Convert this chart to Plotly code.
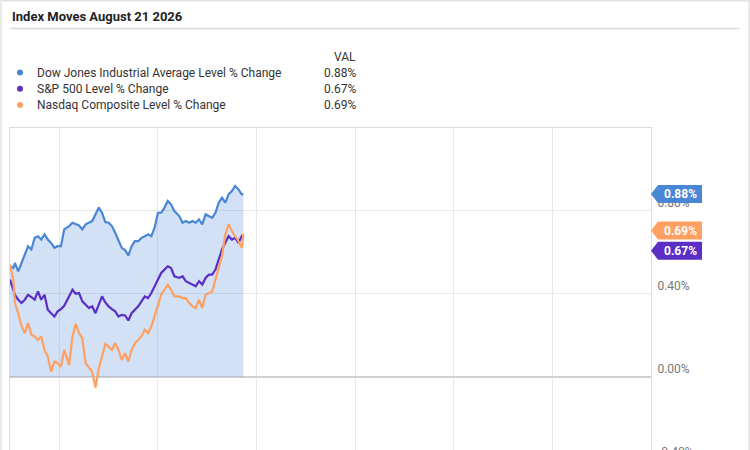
import pandas as pd
import plotly.graph_objects as go

# minutes after the 9:30 open
minutes = [0, 2, 3, 5, 7, 9, 11, 13, 15, 17, 19, 21, 23, 25, 27, 29, 31, 33, 36, 38,
           40, 42, 44, 46, 48, 50, 52, 54, 56, 58, 60, 62, 64, 66, 68, 70, 72, 74, 76, 78,
           80, 82, 84, 86, 88, 90, 92, 94, 96, 98, 100, 103, 105, 107, 109, 111, 113, 115, 117, 119,
           121, 123, 125, 127, 129, 131, 133, 135, 137, 139, 141, 142]

dow = [0.532, 0.524, 0.548, 0.508, 0.548, 0.589, 0.629, 0.613, 0.669, 0.677, 0.661, 0.686, 0.661, 0.645, 0.621, 0.629, 0.629, 0.710, 0.726, 0.742,
       0.734, 0.729, 0.710, 0.734, 0.742, 0.750, 0.782, 0.815, 0.790, 0.745, 0.742, 0.726, 0.694, 0.661, 0.621, 0.610, 0.584, 0.629, 0.653, 0.653,
       0.669, 0.677, 0.686, 0.677, 0.718, 0.790, 0.790, 0.815, 0.847, 0.831, 0.798, 0.774, 0.742, 0.750, 0.742, 0.750, 0.742, 0.758, 0.734, 0.782,
       0.774, 0.766, 0.790, 0.839, 0.863, 0.839, 0.879, 0.895, 0.919, 0.903, 0.879, 0.880]

spx = [0.468, 0.419, 0.395, 0.371, 0.355, 0.371, 0.395, 0.384, 0.371, 0.411, 0.371, 0.395, 0.323, 0.306, 0.290, 0.315, 0.326, 0.342, 0.387, 0.419,
       0.400, 0.403, 0.363, 0.347, 0.331, 0.339, 0.306, 0.347, 0.387, 0.358, 0.339, 0.326, 0.315, 0.290, 0.298, 0.295, 0.271, 0.306, 0.323, 0.339,
       0.363, 0.387, 0.379, 0.403, 0.436, 0.468, 0.500, 0.516, 0.532, 0.524, 0.484, 0.476, 0.484, 0.460, 0.452, 0.444, 0.436, 0.460, 0.444, 0.476,
       0.492, 0.492, 0.516, 0.565, 0.613, 0.645, 0.677, 0.661, 0.669, 0.645, 0.677, 0.670]

nasdaq = [0.540, 0.468, 0.355, 0.306, 0.242, 0.210, 0.258, 0.202, 0.194, 0.177, 0.194, 0.129, 0.097, 0.024, 0.073, 0.065, 0.048, 0.129, 0.056, 0.194,
          0.255, 0.210, 0.185, 0.065, 0.045, 0.024, -0.052, 0.040, 0.097, 0.158, 0.145, 0.129, 0.161, 0.129, 0.081, 0.113, 0.073, 0.129, 0.161, 0.177,
          0.194, 0.226, 0.210, 0.242, 0.290, 0.339, 0.395, 0.419, 0.444, 0.419, 0.387, 0.387, 0.379, 0.379, 0.355, 0.339, 0.331, 0.371, 0.331, 0.395,
          0.403, 0.411, 0.468, 0.532, 0.581, 0.686, 0.734, 0.702, 0.677, 0.653, 0.621, 0.690]

names = ["Dow Jones Industrial Average Level % Change", "S&P 500 Level % Change", "Nasdaq Composite Level % Change"]
last_vals = ["0.88%", "0.67%", "0.69%"]
colors = ["#4a86d6", "#5b2ec4", "#ffa062"]

times = pd.Timestamp("2026-08-21 09:30") + pd.to_timedelta(minutes, unit="m")
series = [dow, spx, nasdaq]

fig = go.Figure()
fig.add_trace(go.Scatter(x=times, y=dow, mode="lines", fill="tozeroy",
                         fillcolor="rgba(74,134,214,0.25)",
                         line=dict(color=colors[0], width=2.2), showlegend=False))
fig.add_trace(go.Scatter(x=times, y=spx, mode="lines",
                         line=dict(color=colors[1], width=2.2), showlegend=False))
fig.add_trace(go.Scatter(x=times, y=nasdaq, mode="lines",
                         line=dict(color=colors[2], width=2.2), showlegend=False))

W, H = 750, 450
L, R, T, B = 10, 99, 128, 0
pw, ph = W - L - R, H - T - B

def px(x):
    return (x - L) / pw

def py(y):
    return (H - B - y) / ph

ann = []
shapes = []

# title and the rule under it
ann.append(dict(text="<b>Index Moves August 21 2026</b>", x=px(10), y=py(17), xref="paper", yref="paper",
                xanchor="left", yanchor="middle", showarrow=False,
                font=dict(family="Roboto", size=13, color="#222")))
shapes.append(dict(type="line", xref="paper", yref="paper", x0=px(10), x1=px(740), y0=py(28.5), y1=py(28.5),
                   line=dict(color="#dcdcdc", width=1.5)))
# outer card frame
shapes.append(dict(type="rect", xref="paper", yref="paper", x0=px(1), x1=px(749), y0=py(470), y1=py(0.7),
                   line=dict(color="#e2e2e2", width=1.5)))

# legend block
ann.append(dict(text="VAL", x=px(358), y=py(57), xref="paper", yref="paper", xanchor="right",
                yanchor="middle", showarrow=False, font=dict(family="Roboto", size=12, color="#333")))
for i, (n, v, c) in enumerate(zip(names, last_vals, colors)):
    ry = 72.5 + i * 16.3
    shapes.append(dict(type="circle", xref="paper", yref="paper", xsizemode="pixel", ysizemode="pixel",
                       xanchor=px(20), yanchor=py(ry), x0=-3, x1=3, y0=-3, y1=3,
                       fillcolor=c, line=dict(width=0)))
    ann.append(dict(text=n, x=px(35), y=py(ry), xref="paper", yref="paper", xanchor="left",
                    yanchor="middle", showarrow=False, font=dict(family="Roboto", size=12, color="#333")))
    ann.append(dict(text=v, x=px(358), y=py(ry), xref="paper", yref="paper", xanchor="right",
                    yanchor="middle", showarrow=False, font=dict(family="Roboto", size=12, color="#333")))

# value tags at the right axis
tag_shift = [0, -13, 3]
for s, v, c, d in zip(series, last_vals, colors, tag_shift):
    path = "M0,{a} L7,{b} L51,{b} L51,{e} L7,{e} Z".format(a=d, b=d + 9, e=d - 9)
    shapes.append(dict(type="path", xref="paper", yref="y", xsizemode="pixel", ysizemode="pixel",
                       xanchor=1, yanchor=s[-1], path=path, fillcolor=c, line=dict(width=0)))
    ann.append(dict(text="<b>" + v + "</b>", x=1, y=s[-1], xref="paper", yref="y", xshift=29, yshift=d,
                    xanchor="center", yanchor="middle", showarrow=False,
                    font=dict(family="Roboto", size=12, color="white")))

# the -0.40% label that is cut off by the bottom edge
ann.append(dict(text="-0.40%", x=1, y=py(452), xref="paper", yref="paper", xshift=5,
                xanchor="left", yanchor="middle", showarrow=False,
                font=dict(family="Roboto", size=12, color="#777")))

y_top = (376.7 - T) / 207.5
y_bot = (376.7 - H) / 207.5

fig.update_layout(
    width=W, height=H,
    margin=dict(l=L, r=R, t=T, b=B, pad=0),
    paper_bgcolor="white", plot_bgcolor="white",
    font=dict(family="Roboto", size=12, color="#777"),
    annotations=ann, shapes=shapes,
    xaxis=dict(range=[pd.Timestamp("2026-08-21 09:30"), pd.Timestamp("2026-08-21 16:00")],
               tick0="2026-08-21 10:00", dtick=3600000, showticklabels=False,
               showgrid=True, gridcolor="#e8e8e8", showline=True, mirror=True,
               linecolor="#dcdcdc", zeroline=False, fixedrange=True),
    yaxis=dict(range=[y_bot, y_top], side="right", dtick=0.4, tick0=0, tickformat=".2f",
               ticksuffix="%", ticklabelposition="outside top", ticklabelstandoff=3, showgrid=True,
               gridcolor="#e8e8e8", zeroline=True, zerolinecolor="#d0d0d0", zerolinewidth=1.5,
               showline=True, mirror=True, linecolor="#dcdcdc",
               tickfont=dict(family="Roboto", size=12, color="#777")),
    hovermode=False,
)

fig.write_html("out.html", config={"displayModeBar": False},
               post_script="document.body.style.margin='0';")
